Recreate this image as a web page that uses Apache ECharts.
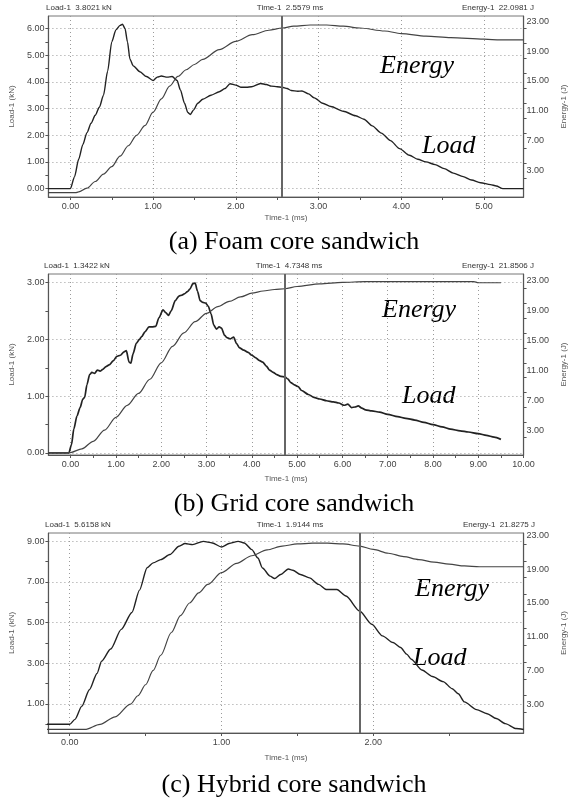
<!DOCTYPE html>
<html>
<head>
<meta charset="utf-8">
<script src="https://cdn.jsdelivr.net/npm/echarts@6/dist/echarts.min.js"></script>
<style>
  html, body { margin: 0; padding: 0; background: #fff; }
  #chart { width: 576px; height: 800px; }
</style>
</head>
<body>
<div id="chart"></div>
<script>
// (a) foam core sandwich
const foamLoadTime = [-0.27, 0, 0.05, 0.1, 0.15, 0.2, 0.25, 0.3, 0.35, 0.4, 0.45, 0.5, 0.55, 0.6, 0.63, 0.66, 0.69, 0.72, 0.76, 0.84, 0.92, 1.0, 1.05, 1.1, 1.17, 1.23, 1.29, 1.33, 1.38, 1.42, 1.45, 1.49, 1.54, 1.6, 1.7, 1.8, 1.87, 1.93, 2.0, 2.06, 2.13, 2.19, 2.3, 2.37, 2.43, 2.5, 2.56, 2.62, 2.67, 2.75, 2.8, 2.88, 2.95, 3.05, 3.15, 3.3, 3.45, 3.55, 3.65, 3.76, 3.87, 3.98, 4.1, 4.2, 4.3, 4.41, 4.52, 4.63, 4.75, 4.85, 4.96, 5.08, 5.15, 5.23, 5.48];
const foamLoad = [0, 0, 0.45, 1.1, 1.65, 2.1, 2.45, 2.75, 3.05, 3.5, 4.4, 5.5, 5.95, 6.12, 6.16, 6.0, 5.5, 4.85, 4.6, 4.38, 4.2, 4.05, 4.18, 4.22, 4.18, 4.2, 4.05, 3.7, 3.2, 2.85, 2.78, 2.95, 3.2, 3.35, 3.5, 3.63, 3.75, 3.93, 3.88, 3.8, 3.8, 3.82, 3.94, 3.9, 3.84, 3.82, 3.8, 3.75, 3.68, 3.65, 3.66, 3.55, 3.4, 3.2, 3.08, 2.9, 2.73, 2.6, 2.35, 2.08, 1.8, 1.5, 1.25, 1.1, 1.0, 0.9, 0.75, 0.58, 0.45, 0.32, 0.22, 0.15, 0.1, 0.0, 0.0];
const foamEnergyTime = [-0.27, 0.06, 0.1, 0.2, 0.3, 0.4, 0.5, 0.6, 0.7, 0.8, 0.9, 1.0, 1.1, 1.2, 1.3, 1.4, 1.5, 1.6, 1.8, 2.0, 2.2, 2.4, 2.56, 2.7, 2.9, 3.1, 3.3, 3.5, 3.8, 4.0, 4.3, 4.6, 5.0, 5.2, 5.48];
const foamEnergy = [0, 0, 0.1, 0.6, 1.5, 2.5, 3.5, 4.9, 6.3, 7.7, 9.0, 10.8, 12.6, 14.3, 15.6, 16.5, 17.2, 17.9, 19.2, 20.3, 21.2, 21.8, 22.1, 22.35, 22.5, 22.5, 22.35, 22.1, 21.7, 21.35, 21.0, 20.8, 20.6, 20.5, 20.5];

// (b) grid core sandwich
const gridLoadTime = [-0.49, -0.04, 0.02, 0.07, 0.14, 0.21, 0.27, 0.31, 0.36, 0.42, 0.47, 0.53, 0.59, 0.65, 0.71, 0.78, 0.85, 0.94, 1.02, 1.1, 1.18, 1.23, 1.29, 1.33, 1.38, 1.45, 1.52, 1.57, 1.64, 1.73, 1.8, 1.88, 1.95, 2.04, 2.1, 2.16, 2.22, 2.31, 2.39, 2.46, 2.51, 2.58, 2.63, 2.7, 2.75, 2.8, 2.86, 2.92, 2.98, 3.04, 3.1, 3.16, 3.22, 3.28, 3.33, 3.4, 3.45, 3.53, 3.6, 3.66, 3.73, 3.82, 3.92, 4.0, 4.08, 4.16, 4.24, 4.32, 4.39, 4.47, 4.55, 4.64, 4.73, 4.8, 4.86, 4.94, 5.02, 5.1, 5.25, 5.37, 5.5, 5.65, 5.8, 5.92, 6.04, 6.12, 6.2, 6.28, 6.35, 6.43, 6.51, 6.65, 6.82, 7.0, 7.22, 7.4, 7.6, 7.8, 8.0, 8.2, 8.39, 8.6, 8.78, 9.0, 9.18, 9.35, 9.5];
const gridLoad = [0, 0, 0.15, 0.42, 0.65, 0.8, 0.95, 0.98, 1.2, 1.38, 1.42, 1.4, 1.46, 1.44, 1.47, 1.52, 1.55, 1.62, 1.7, 1.72, 1.78, 1.8, 1.6, 1.58, 1.75, 1.93, 2.0, 2.05, 2.13, 2.22, 2.22, 2.23, 2.38, 2.52, 2.47, 2.42, 2.5, 2.68, 2.76, 2.78, 2.8, 2.84, 2.88, 2.98, 2.99, 2.85, 2.68, 2.65, 2.64, 2.58, 2.45, 2.25, 2.18, 2.22, 2.2, 2.07, 2.03, 2.01, 2.04, 1.93, 1.85, 1.81, 1.77, 1.72, 1.68, 1.63, 1.6, 1.53, 1.46, 1.42, 1.38, 1.35, 1.34, 1.3, 1.24, 1.2, 1.17, 1.1, 1.03, 0.98, 0.95, 0.92, 0.9, 0.88, 0.84, 0.86, 0.8, 0.81, 0.83, 0.79, 0.76, 0.74, 0.72, 0.68, 0.64, 0.61, 0.58, 0.54, 0.5, 0.46, 0.42, 0.39, 0.37, 0.34, 0.31, 0.28, 0.24];
const gridEnergyTime = [-0.49, 0, 0.25, 0.5, 0.75, 1.0, 1.25, 1.5, 1.75, 2.0, 2.25, 2.5, 2.75, 3.0, 3.25, 3.5, 3.75, 4.0, 4.25, 4.5, 4.73, 5.0, 5.5, 6.0, 6.5, 7.0, 8.0, 8.9, 9.0, 9.5];
const gridEnergy = [0, 0, 0.5, 1.5, 3.0, 4.7, 6.3, 7.9, 9.8, 12.0, 14.2, 16.0, 17.5, 18.6, 19.5, 20.2, 20.8, 21.3, 21.6, 21.8, 21.9, 22.2, 22.55, 22.75, 22.85, 22.85, 22.85, 22.85, 22.7, 22.7];

// (c) hybrid core sandwich
const hybridLoadTime = [-0.15, 0, 0.035, 0.08, 0.13, 0.18, 0.21, 0.27, 0.34, 0.41, 0.46, 0.51, 0.55, 0.6, 0.66, 0.72, 0.76, 0.81, 0.88, 0.94, 1.0, 1.05, 1.11, 1.15, 1.2, 1.24, 1.27, 1.32, 1.35, 1.39, 1.44, 1.47, 1.52, 1.58, 1.64, 1.69, 1.76, 1.82, 1.91, 1.99, 2.06, 2.13, 2.18, 2.22, 2.25, 2.32, 2.39, 2.46, 2.52, 2.56, 2.6, 2.68, 2.75, 2.81, 2.87, 2.94, 2.99];
const hybridLoad = [0, 0, 0.24, 0.89, 1.7, 2.5, 3.1, 3.7, 4.67, 5.5, 6.6, 7.7, 7.94, 8.1, 8.35, 8.76, 8.89, 8.84, 9.0, 8.92, 8.72, 8.89, 9.0, 8.92, 8.59, 8.18, 7.69, 7.29, 7.17, 7.37, 7.64, 7.58, 7.37, 7.2, 6.88, 6.63, 6.63, 6.31, 5.57, 4.92, 4.35, 4.02, 3.78, 3.45, 3.2, 2.67, 2.35, 2.1, 1.75, 1.5, 1.1, 0.72, 0.52, 0.28, 0.03, -0.21, -0.26];
const hybridEnergyTime = [-0.15, 0.1, 0.2, 0.3, 0.4, 0.45, 0.5, 0.55, 0.6, 0.67, 0.73, 0.79, 0.85, 0.91, 1.0, 1.1, 1.2, 1.3, 1.4, 1.5, 1.6, 1.7, 1.8, 1.91, 2.0, 2.1, 2.2, 2.3, 2.4, 2.5, 2.6, 2.7, 2.99];
const hybridEnergy = [0, 0, 0.6, 1.5, 3.0, 4.0, 5.3, 7.0, 8.8, 11.5, 13.5, 15.0, 16.2, 17.2, 18.6, 19.7, 20.6, 21.3, 21.75, 22.0, 22.1, 22.1, 22.0, 21.75, 21.35, 20.9, 20.5, 20.15, 19.85, 19.6, 19.4, 19.3, 19.3];

// cursor positions and read-outs
const cursorTimes = [2.5579, 4.7348, 1.9144];
const loadReadouts = ['3.8021 kN', '1.3422 kN', '5.6158 kN'];
const timeReadouts = ['2.5579 ms', '4.7348 ms', '1.9144 ms'];
const energyReadouts = ['22.0981 J', '21.8506 J', '21.8275 J'];
const captions = ['(a) Foam core sandwich', '(b) Grid core sandwich', '(c) Hybrid core sandwich'];

// tick labels
const foamTimeLabels = [0, 1, 2, 3, 4, 5];
const gridTimeLabels = [0, 1, 2, 3, 4, 5, 6, 7, 8, 9, 10];
const hybridTimeLabels = [0, 1, 2];
const foamLoadLabels = [0, 1, 2, 3, 4, 5, 6];
const gridLoadLabels = [0, 1, 2, 3];
const hybridLoadLabels = [1, 3, 5, 7, 9];
const energyLabels = [3, 7, 11, 15, 19, 23];

function zip(xs, ys) {
  const n = Math.min(xs.length, ys.length);
  const out = [];
  for (let i = 0; i < n; i++) out.push([xs[i], ys[i]]);
  return out;
}

function steps(min, max, step) {
  const out = [];
  for (let v = Math.ceil(min / step) * step; v <= max + 1e-9; v += step) {
    out.push(Math.round(v * 1000) / 1000);
  }
  return out;
}

const panels = [
  {
    grid: { left: 46, right: 42, top: 16, height: 181 },
    time: [-0.266, 5.48], load: [-0.315, 6.47], energy: [-0.58, 23.71],
    timeLabels: foamTimeLabels, timeStep: 0.5,
    loadLabels: foamLoadLabels, loadStep: 0.5,
    loadData: zip(foamLoadTime, foamLoad), energyData: zip(foamEnergyTime, foamEnergy),
    timeNameGap: 17, loadWidth: 1.4,
    energyTag: [380, 66], loadTag: [422, 146], captionY: 242
  },
  {
    grid: { left: 44, right: 42, top: 274, height: 181 },
    time: [-0.49, 10.0], load: [-0.035, 3.15], energy: [-0.33, 23.87],
    timeLabels: gridTimeLabels, timeStep: 0.5,
    loadLabels: gridLoadLabels, loadStep: 0.5,
    loadData: zip(gridLoadTime, gridLoad), energyData: zip(gridEnergyTime, gridEnergy),
    timeNameGap: 20, loadWidth: 1.7,
    energyTag: [382, 310], loadTag: [402, 396], captionY: 504
  },
  {
    grid: { left: 45, right: 41, top: 533, height: 200 },
    time: [-0.14, 2.99], load: [-0.43, 9.41], energy: [-0.42, 23.3],
    timeLabels: hybridTimeLabels, timeStep: 0.5,
    loadLabels: hybridLoadLabels, loadStep: 1,
    loadData: zip(hybridLoadTime, hybridLoad), energyData: zip(hybridEnergyTime, hybridEnergy),
    timeNameGap: 21, loadWidth: 1.4,
    energyTag: [415, 589], loadTag: [413, 658], captionY: 785
  }
];

const axisColor = '#555';
const labelStyle = { fontFamily: 'Liberation Sans', fontSize: 9, color: '#444' };
const nameStyle = { fontFamily: 'Liberation Sans', fontSize: 8, color: '#555' };
const gridLine = { show: true, lineStyle: { color: '#9a9a9a', type: [1, 3], width: 1 } };

const grids = [];
const xAxes = [];
const yAxes = [];
const series = [];
const graphics = [];

panels.forEach((p, i) => {
  grids.push(Object.assign({ show: true, borderColor: '#777', borderWidth: 1 }, p.grid));

  // time axis with labels and ticks
  xAxes.push({
    type: 'value', gridIndex: i, position: 'bottom', min: p.time[0], max: p.time[1],
    axisLine: { show: true, onZero: false, lineStyle: { color: axisColor, width: 1.2 } },
    axisTick: { show: true, length: 3, customValues: steps(p.time[0], p.time[1], p.timeStep), lineStyle: { color: axisColor } },
    axisLabel: Object.assign({ customValues: p.timeLabels, margin: 5, formatter: v => v.toFixed(2) }, labelStyle),
    splitLine: { show: false },
    name: 'Time-1 (ms)', nameLocation: 'middle', nameGap: p.timeNameGap, nameTextStyle: nameStyle
  });
  // dotted vertical grid
  xAxes.push({
    type: 'value', gridIndex: i, position: 'top', min: p.time[0], max: p.time[1],
    axisLine: { show: false }, axisLabel: { show: false },
    axisTick: { show: false, customValues: p.timeLabels },
    splitLine: gridLine
  });

  // load axis
  yAxes.push({
    type: 'value', gridIndex: i, position: 'left', min: p.load[0], max: p.load[1],
    axisLine: { show: true, onZero: false, lineStyle: { color: axisColor, width: 1.2 } },
    axisTick: { show: true, length: 3, customValues: steps(p.load[0], p.load[1], p.loadStep), lineStyle: { color: axisColor } },
    axisLabel: Object.assign({ customValues: p.loadLabels, margin: 4, formatter: v => v.toFixed(2) }, labelStyle),
    splitLine: { show: false },
    name: 'Load-1 (kN)', nameLocation: 'middle', nameGap: 28, nameTextStyle: nameStyle
  });
  // dotted horizontal grid
  yAxes.push({
    type: 'value', gridIndex: i, position: 'left', min: p.load[0], max: p.load[1],
    axisLine: { show: false }, axisLabel: { show: false },
    axisTick: { show: false, customValues: p.loadLabels },
    splitLine: gridLine
  });
  // energy axis
  yAxes.push({
    type: 'value', gridIndex: i, position: 'right', min: p.energy[0], max: p.energy[1],
    axisLine: { show: true, onZero: false, lineStyle: { color: axisColor, width: 1.2 } },
    axisTick: { show: true, length: 3, customValues: steps(1, p.energy[1], 2), lineStyle: { color: axisColor } },
    axisLabel: Object.assign({ customValues: energyLabels, margin: 3, formatter: v => v.toFixed(2) }, labelStyle),
    splitLine: { show: false },
    name: 'Energy-1 (J)', nameLocation: 'middle', nameGap: 33, nameTextStyle: nameStyle
  });

  series.push({
    type: 'line', xAxisIndex: 2 * i, yAxisIndex: 3 * i, data: p.loadData,
    showSymbol: false, symbol: 'none', smooth: 0.25, smoothMonotone: 'x',
    lineStyle: { color: '#222', width: p.loadWidth },
    markLine: {
      silent: true, symbol: ['none', 'none'], label: { show: false },
      lineStyle: { color: '#666', width: 2, type: 'solid' },
      data: [{ xAxis: cursorTimes[i] }]
    }
  });
  series.push({
    type: 'line', xAxisIndex: 2 * i, yAxisIndex: 3 * i + 2, data: p.energyData,
    showSymbol: false, symbol: 'none', smooth: 0.3, smoothMonotone: 'x',
    lineStyle: { color: '#444', width: 1.2 }
  });

  // read-out header
  const left = p.grid.left;
  const right = 576 - p.grid.right;
  const headY = p.grid.top - 8;
  const headFont = '8px "Liberation Sans"';
  graphics.push(
    { type: 'text', x: left, y: headY, style: { text: 'Load-1  ' + loadReadouts[i], font: headFont, fill: '#333', align: 'left', verticalAlign: 'middle' } },
    { type: 'text', x: (left + right) / 2, y: headY, style: { text: 'Time-1  ' + timeReadouts[i], font: headFont, fill: '#333', align: 'center', verticalAlign: 'middle' } },
    { type: 'text', x: right, y: headY, style: { text: 'Energy-1  ' + energyReadouts[i], font: headFont, fill: '#333', align: 'right', verticalAlign: 'middle' } }
  );

  // curve tags and caption
  const tagFont = 'italic 26px "Liberation Serif"';
  graphics.push(
    { type: 'text', x: p.energyTag[0], y: p.energyTag[1], style: { text: 'Energy', font: tagFont, fill: '#000', align: 'left', verticalAlign: 'middle' } },
    { type: 'text', x: p.loadTag[0], y: p.loadTag[1], style: { text: 'Load', font: tagFont, fill: '#000', align: 'left', verticalAlign: 'middle' } },
    { type: 'text', x: 294, y: p.captionY, style: { text: captions[i], font: '26px "Liberation Serif"', fill: '#000', align: 'center', verticalAlign: 'middle' } }
  );
});

const chart = echarts.init(document.getElementById('chart'));
chart.setOption({
  animation: false,
  backgroundColor: '#fff',
  grid: grids,
  xAxis: xAxes,
  yAxis: yAxes,
  series: series,
  graphic: graphics
});
</script>
</body>
</html>
